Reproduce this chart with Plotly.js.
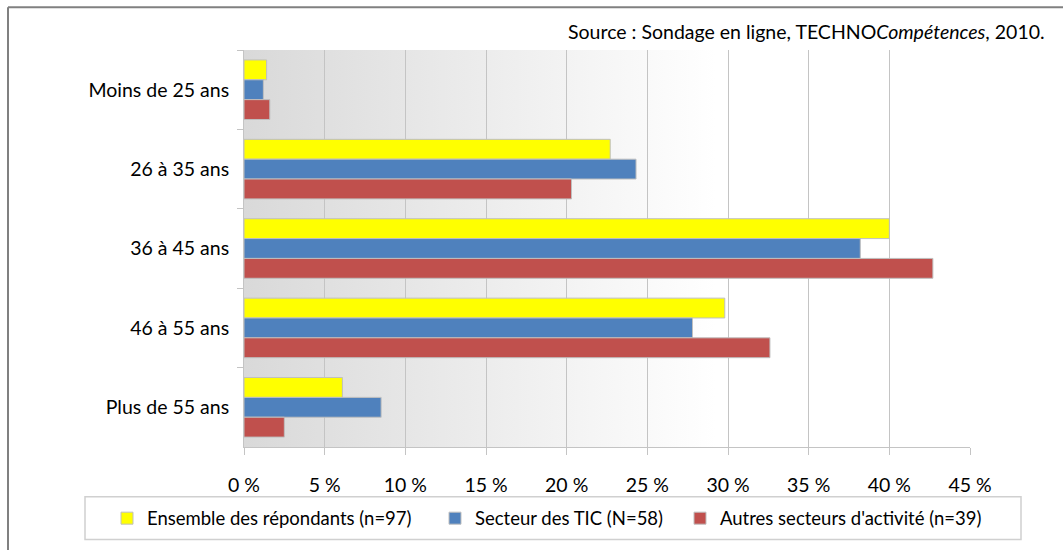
<!DOCTYPE html>
<html>
<head>
<meta charset="utf-8">
<script src="https://cdn.plot.ly/plotly-3.0.1.min.js"></script>
<style>
  html, body { margin: 0; padding: 0; background: #fff; }
  #chart { width: 1063px; height: 550px; }
</style>
</head>
<body>
<div id="chart"></div>
<script>
// Age groups, top to bottom
const categories = ['Moins de 25 ans', '26 à 35 ans', '36 à 45 ans', '46 à 55 ans', 'Plus de 55 ans'];

// Percentages per series
const ensembleValues = [1.4, 22.7, 40.0, 29.8, 6.1];
const ticValues = [1.2, 24.3, 38.2, 27.8, 8.5];
const autresValues = [1.6, 20.3, 42.7, 32.6, 2.5];

const seriesNames = [
  'Ensemble des répondants (n=97)',
  'Secteur des TIC (N=58)',
  "Autres secteurs d'activité (n=39)"
];

const xTickVals = [0, 5, 10, 15, 20, 25, 30, 35, 40, 45];
const xTickText = xTickVals.map(v => v + ' %');

const FONT = 'Lato, "Liberation Sans", sans-serif';

// plot area in pixels: left 244, right 970, top 50, bottom 449
const PL = 244, PR = 970, PT = 50, PB = 449;
const px2x = px => (px - PL) / (PR - PL);
const px2y = py => (PB - py) / (PB - PT);

function barTrace(values, name, color, legendId) {
  return {
    type: 'bar',
    orientation: 'h',
    x: values,
    y: categories,
    name: name,
    legend: legendId,
    marker: { color: color, line: { color: '#bfbfbf', width: 1 } },
    hoverinfo: 'x+name'
  };
}

const traces = [
  barTrace(ensembleValues, seriesNames[0], '#FFFF00', 'legend'),
  barTrace(ticValues, seriesNames[1], '#4F81BD', 'legend2'),
  barTrace(autresValues, seriesNames[2], '#C0504D', 'legend3')
];

// gradient background for the plot area
const gradSvg = '<svg xmlns="http://www.w3.org/2000/svg" width="100" height="100" preserveAspectRatio="none">' +
  '<defs><linearGradient id="g" x1="0" y1="0" x2="1" y2="0">' +
  '<stop offset="0" stop-color="#d9d9d9"/><stop offset="0.65" stop-color="#ffffff"/>' +
  '</linearGradient></defs><rect width="100" height="100" fill="url(#g)"/></svg>';

function legendAt(px) {
  return {
    x: px2x(px), xanchor: 'left',
    y: px2y(521), yanchor: 'middle',
    orientation: 'h',
    bgcolor: 'rgba(0,0,0,0)',
    font: { family: FONT, size: 18.5, color: '#000' }
  };
}

const layout = {
  width: 1063,
  height: 550,
  margin: { l: PL, r: 1063 - PR, t: PT, b: 550 - PB },
  paper_bgcolor: '#fff',
  plot_bgcolor: 'rgba(0,0,0,0)',
  font: { family: FONT, size: 19.5, color: '#000' },
  barmode: 'group',
  bargap: 0.25,
  bargroupgap: 0,
  showlegend: true,
  legend: legendAt(107),
  legend2: legendAt(435),
  legend3: legendAt(680),
  xaxis: {
    range: [0, 45],
    tickmode: 'array',
    tickvals: xTickVals,
    ticktext: xTickText,
    showgrid: true,
    gridcolor: '#c4c4c4',
    gridwidth: 1,
    zeroline: false,
    showline: true,
    linecolor: '#c4c4c4',
    ticks: 'outside',
    ticklen: 7,
    tickcolor: '#c4c4c4',
    ticklabelstandoff: 14,
    fixedrange: true
  },
  yaxis: {
    autorange: 'reversed',
    showgrid: false,
    zeroline: false,
    showline: true,
    linecolor: '#c4c4c4',
    ticks: 'outside',
    tickson: 'boundaries',
    ticklen: 6,
    tickcolor: '#c4c4c4',
    ticklabelstandoff: 10,
    fixedrange: true
  },
  images: [{
    source: 'data:image/svg+xml;charset=utf-8,' + encodeURIComponent(gradSvg),
    xref: 'paper', yref: 'paper',
    x: 0, y: 1, sizex: 1, sizey: 1,
    xanchor: 'left', yanchor: 'top',
    sizing: 'stretch',
    layer: 'below'
  }],
  shapes: [
    // outer chart frame (left and top edges visible)
    { type: 'line', xref: 'paper', yref: 'paper', x0: px2x(8), x1: px2x(1080), y0: px2y(7), y1: px2y(7),
      line: { color: '#808080', width: 2 } },
    { type: 'line', xref: 'paper', yref: 'paper', x0: px2x(8), x1: px2x(8), y0: px2y(7), y1: px2y(570),
      line: { color: '#808080', width: 2 } },
    // legend frame
    { type: 'rect', xref: 'paper', yref: 'paper', x0: px2x(85), x1: px2x(1021), y0: px2y(499), y1: px2y(542),
      line: { color: '#d0d0d0', width: 1.5 }, fillcolor: 'rgba(0,0,0,0)' }
  ],
  annotations: [{
    xref: 'paper', yref: 'paper',
    x: px2x(1047), y: px2y(31),
    xanchor: 'right', yanchor: 'middle',
    showarrow: false,
    text: 'Source : Sondage en ligne, TECHNO<i>Compétences</i>, 2010.',
    font: { family: FONT, size: 19.5, color: '#000' }
  }]
};

Plotly.newPlot('chart', traces, layout, { displayModeBar: false, staticPlot: true });
</script>
</body>
</html>
